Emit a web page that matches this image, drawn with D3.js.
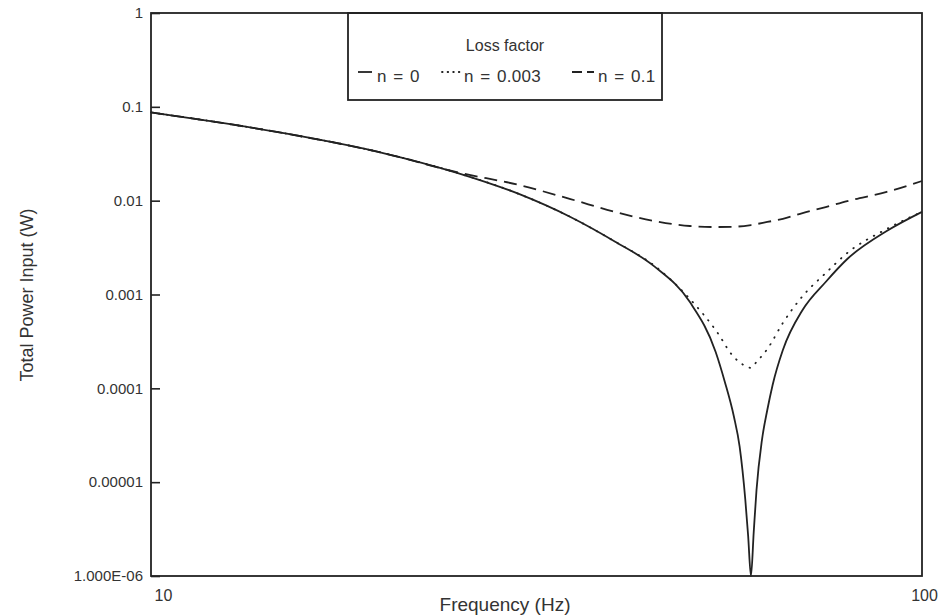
<html>
<script src='https://d3js.org/d3.v7.min.js'></script>
<style>
    body { margin: 0; background: #fff; }
    text { font-family: Arial, "Liberation Sans", sans-serif; fill: #333; }
    .frame { fill: none; stroke: #222; stroke-width: 1.8; }
    .curve { fill: none; stroke: #222; stroke-width: 1.8; }
</style>

<body onload='init()'>
    <svg width=945 height=616></svg>
    <script>
        // frequencies (Hz) the curves were read at
        const freq = [10, 12, 15, 20, 25, 30, 35, 40, 45, 50, 54, 55.5, 57, 58, 59, 59.5, 60, 60.5, 61, 62, 63, 64, 66, 70, 75, 80, 90, 100];
        // total power input (W), loss factor n = 0
        const powerN0 = [0.0871, 0.0700, 0.0517, 0.0322, 0.0197, 0.0118, 0.0067, 0.00365, 0.00198, 0.00083, 0.000244, 0.000117, 0.0000507, 0.000024, 0.00000645, 0.00000267, 0.000001, 0.00000294, 0.0000082, 0.0000281, 0.0000587, 0.000108, 0.000256, 0.000684, 0.00136, 0.00239, 0.00475, 0.0076];
        // n = 0.003
        const freqN003 = [10, 12, 15, 20, 25, 30, 35, 40, 45, 50, 54, 57, 59, 60, 61, 63, 66, 70, 75, 80, 90, 100];
        const powerN003 = [0.0871, 0.0700, 0.0517, 0.0322, 0.0197, 0.0118, 0.0067, 0.00365, 0.00202, 0.000895, 0.000418, 0.000216, 0.000173, 0.000165, 0.000191, 0.000262, 0.000497, 0.00096, 0.00169, 0.00277, 0.00499, 0.0076];
        // n = 0.1
        const freqN01 = [10, 12, 15, 20, 25, 30, 35, 40, 45, 50, 54, 57, 60, 63, 66, 70, 75, 80, 90, 100];
        const powerN01 = [0.0871, 0.0700, 0.0517, 0.0322, 0.0200, 0.0147, 0.0104, 0.00757, 0.00607, 0.00537, 0.00524, 0.00527, 0.0055, 0.00593, 0.0064, 0.00738, 0.00855, 0.0099, 0.0124, 0.0162];

        const yTicks = [1, 0.1, 0.01, 0.001, 0.0001, 0.00001, 0.000001];
        const yTickLabels = ['1', '0.1', '0.01', '0.001', '0.0001', '0.00001', '1.000E-06'];
        const xTicks = [10, 100];
        const xTickLabels = ['10', '100'];
        const legendLabels = ['n = 0', 'n = 0.003', 'n = 0.1'];

        function init() {
            const left = 151, right = 922, top = 13, bottom = 576;
            const svg = d3.select('svg');

            const x = d3.scaleLog().domain([10, 100]).range([left, right]);
            const y = d3.scaleLog().domain([0.000001, 1]).range([bottom, top]);

            // curves
            const line = d3.line()
                .x(d => x(d[0]))
                .y(d => y(d[1]))
                .curve(d3.curveMonotoneX);

            const series = [
                { f: freq, p: powerN0, dash: null, cap: 'butt' },
                { f: freqN003, p: powerN003, dash: '0.6,7.4', cap: 'round' },
                { f: freqN01, p: powerN01, dash: '13,7', cap: 'butt' }
            ];
            svg.append('g').selectAll('path')
                .data(series)
                .enter()
                .append('path')
                .attr('class', 'curve')
                .attr('stroke-dasharray', d => d.dash)
                .attr('stroke-linecap', d => d.cap)
                .attr('stroke-width', d => d.cap == 'round' ? 2.3 : 1.8)
                .attr('d', d => line(d.f.map((f, i) => [f, d.p[i]])));

            // frame
            svg.append('rect')
                .attr('class', 'frame')
                .attr('x', left).attr('y', top)
                .attr('width', right - left).attr('height', bottom - top);

            // y axis, ticks pointing inward
            const yAxis = svg.append('g')
                .attr('transform', 'translate(' + left + ',0)')
                .call(d3.axisLeft(y).tickValues(yTicks)
                    .tickFormat((d, i) => yTickLabels[i])
                    .tickSizeInner(-9).tickSizeOuter(0).tickPadding(8));
            yAxis.select('.domain').remove();
            yAxis.selectAll('line').attr('stroke', '#222').attr('stroke-width', 1.6);
            yAxis.selectAll('text').attr('font-size', 15).attr('fill', '#333');

            // x axis, labels only
            const xAxis = svg.append('g')
                .attr('transform', 'translate(0,' + bottom + ')')
                .call(d3.axisBottom(x).tickValues(xTicks)
                    .tickFormat((d, i) => xTickLabels[i])
                    .tickSize(0).tickPadding(14));
            xAxis.select('.domain').remove();
            xAxis.selectAll('text').attr('font-size', 16).attr('fill', '#333')
                .attr('dx', (d, i) => i == 0 ? 12 : 2);

            // axis titles
            svg.append('text')
                .attr('x', 505).attr('y', 611)
                .attr('text-anchor', 'middle')
                .attr('font-size', 19)
                .text('Frequency (Hz)');
            svg.append('text')
                .attr('transform', 'translate(33,295) rotate(-90)')
                .attr('text-anchor', 'middle')
                .attr('font-size', 18)
                .text('Total Power Input (W)');

            // legend
            const lg = svg.append('g');
            lg.append('rect')
                .attr('class', 'frame')
                .attr('x', 348).attr('y', top)
                .attr('width', 314).attr('height', 87);
            lg.append('text')
                .attr('x', 505).attr('y', 51)
                .attr('text-anchor', 'middle')
                .attr('font-size', 16)
                .text('Loss factor');
            const items = [
                { x1: 358, x2: 372, tx: 377, dash: null, cap: 'butt' },
                { x1: 442, x2: 460, tx: 464, dash: '0.6,5', cap: 'round' },
                { x1: 572, x2: 594, tx: 598, dash: '10,5', cap: 'butt' }
            ];
            items.forEach((it, i) => {
                lg.append('line')
                    .attr('x1', it.x1).attr('x2', it.x2)
                    .attr('y1', 72).attr('y2', 72)
                    .attr('stroke', '#222').attr('stroke-width', 1.8)
                    .attr('stroke-linecap', it.cap)
                    .attr('stroke-dasharray', it.dash);
                lg.append('text')
                    .attr('x', it.tx).attr('y', 82)
                    .attr('font-size', 17)
                    .attr('letter-spacing', 0.3)
                    .attr('word-spacing', 1.5)
                    .text(legendLabels[i]);
            });
        }
    </script>
</body>

</html>
